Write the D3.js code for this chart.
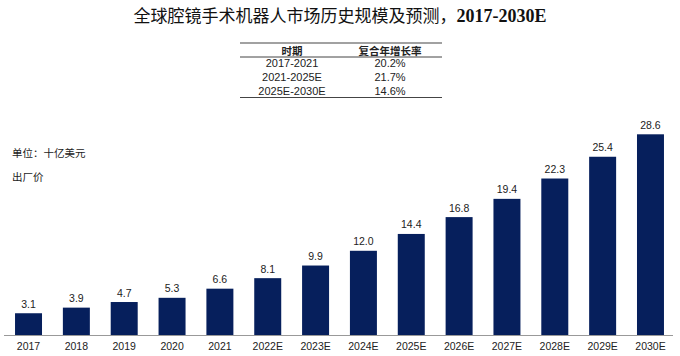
<!DOCTYPE html>
<html><head><meta charset="utf-8">
<script src="https://cdn.jsdelivr.net/npm/d3@7"></script>
<style>body{margin:0;background:#fff}svg{display:block}</style>
</head><body>
<svg id="c" width="680" height="356"></svg>
<script>
const categories = ["2017","2018","2019","2020","2021","2022E","2023E","2024E","2025E","2026E","2027E","2028E","2029E","2030E"];
const values = [3.1,3.9,4.7,5.3,6.6,8.1,9.9,12.0,14.4,16.8,19.4,22.3,25.4,28.6];
const tableHeader = ["时期","复合年增长率"];
const tablePeriods = ["2017-2021","2021-2025E","2025E-2030E"];
const tableCagr = ["20.2%","21.7%","14.6%"];
const titleCn = "全球腔镜手术机器人市场历史规模及预测，";
const titleEn = "2017-2030E";
const notes = ["单位：十亿美元","出厂价"];

const svg = d3.select("#c");
const base = 335;
const x = d3.scaleBand().domain(categories).range([4.6, 674.4]).paddingInner(0.436).paddingOuter(0.218);
const y = d3.scaleLinear().domain([0, 28.6]).range([base, 134.3]);

// title
const t = svg.append("text").attr("x", 340).attr("y", 22).attr("text-anchor", "middle");
t.append("tspan").text(titleCn).attr("font-family", "'Noto Sans CJK SC'").attr("font-size", 17).attr("fill", "#111");
t.append("tspan").text(titleEn).attr("font-family", "'Liberation Serif'").attr("font-weight", "bold").attr("font-size", 18).attr("fill", "#111");

// table
const tbl = svg.append("g").attr("font-family", "'Liberation Sans','Noto Sans CJK SC'").attr("font-size", 11).attr("fill", "#222");
const c1 = 292, c2 = 390;
tbl.append("line").attr("x1", 240).attr("x2", 442).attr("y1", 43).attr("y2", 43).attr("stroke", "#444").attr("stroke-width", 1.2);
tbl.append("line").attr("x1", 240).attr("x2", 442).attr("y1", 57).attr("y2", 57).attr("stroke", "#444").attr("stroke-width", 1);
tbl.append("line").attr("x1", 240).attr("x2", 442).attr("y1", 97.5).attr("y2", 97.5).attr("stroke", "#444").attr("stroke-width", 1.2);
tbl.append("text").attr("x", c1).attr("y", 54.5).attr("text-anchor", "middle").attr("font-weight", "bold").attr("font-size", 10.5).attr("font-family", "'Noto Sans CJK SC'").text(tableHeader[0]);
tbl.append("text").attr("x", c2).attr("y", 54.5).attr("text-anchor", "middle").attr("font-weight", "bold").attr("font-size", 10.5).attr("font-family", "'Noto Sans CJK SC'").text(tableHeader[1]);
tablePeriods.forEach((p, i) => {
  const yy = 67 + i * 14;
  tbl.append("text").attr("x", c1).attr("y", yy).attr("text-anchor", "middle").text(p);
  tbl.append("text").attr("x", c2).attr("y", yy).attr("text-anchor", "middle").text(tableCagr[i]);
});

// notes
svg.selectAll("text.note").data(notes).enter().append("text").attr("class", "note")
  .attr("x", 12).attr("y", (d, i) => 157 + i * 24)
  .attr("font-family", "'Noto Sans CJK SC'").attr("font-size", 10.5).attr("fill", "#222").text(d => d);

// bars
svg.selectAll("rect.bar").data(values).enter().append("rect").attr("class", "bar")
  .attr("x", (d, i) => x(categories[i])).attr("width", x.bandwidth())
  .attr("y", d => y(d)).attr("height", d => base - y(d)).attr("fill", "#061f5c");

// value labels
svg.selectAll("text.val").data(values).enter().append("text").attr("class", "val")
  .attr("x", (d, i) => x(categories[i]) + x.bandwidth() / 2).attr("y", d => y(d) - 5.5)
  .attr("text-anchor", "middle").attr("font-family", "'Liberation Sans'").attr("font-size", 10.5).attr("fill", "#222")
  .text(d => d.toFixed(1));

// axis
const ax = svg.append("g").attr("transform", `translate(0,${base})`).call(d3.axisBottom(x).tickSize(0).tickPadding(8));
ax.select(".domain").attr("stroke", "#999").attr("d", "M4,0.5H673");
ax.selectAll("text").attr("font-family", "'Liberation Sans'").attr("font-size", 10.5).attr("fill", "#222");
</script>
</body></html>
